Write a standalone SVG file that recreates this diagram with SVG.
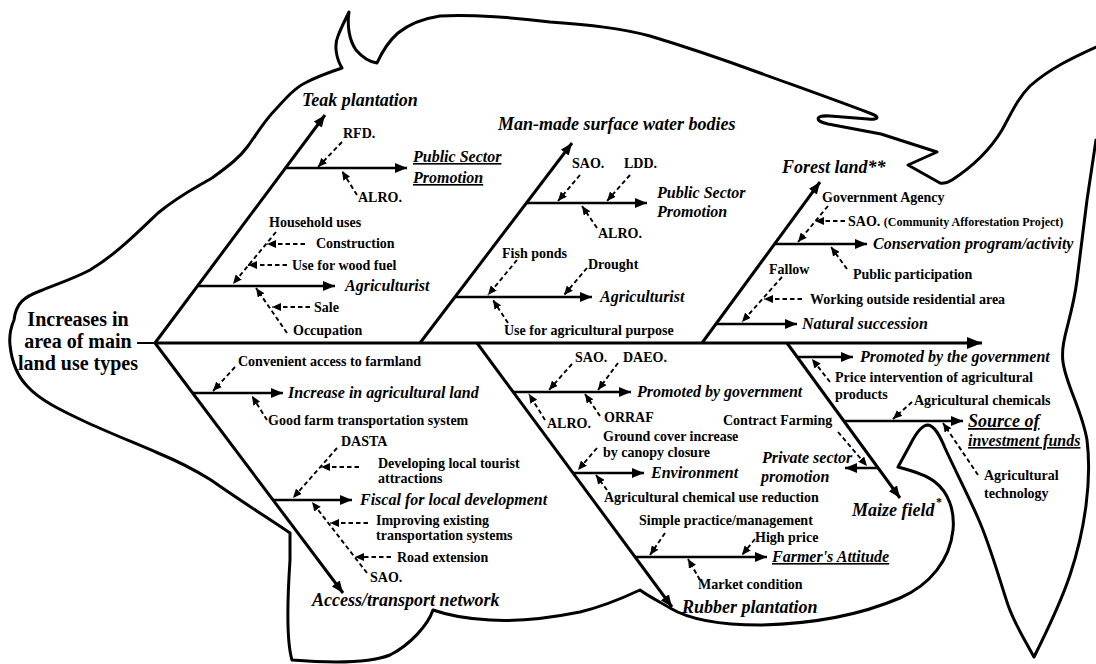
<svg xmlns="http://www.w3.org/2000/svg" width="1096" height="664" viewBox="0 0 1096 664">
<style>
.o{fill:none;stroke:#000;stroke-width:3;stroke-linejoin:round;stroke-linecap:round}
.bone{fill:none;stroke:#000;stroke-width:3}
.br{fill:none;stroke:#000;stroke-width:2.4}
.d{fill:none;stroke:#000;stroke-width:1.9;stroke-dasharray:4.5 3}
text{font-family:"Liberation Serif","Times New Roman",serif;fill:#000}
.t{font-size:20px;font-weight:bold}
.bl{font-size:18px;font-weight:bold;font-style:italic}
.bi{font-size:16px;font-weight:bold;font-style:italic}
.lb{font-size:14px;font-weight:bold}
.sm{font-size:12px}
.u{text-decoration:underline}
</style>
<defs>
<marker id="ahb" markerUnits="userSpaceOnUse" markerWidth="16" markerHeight="12" refX="15" refY="6" orient="auto"><path d="M0,0 L15,6 L0,12 z" fill="#000"/></marker>
<marker id="ah" markerUnits="userSpaceOnUse" markerWidth="12" markerHeight="10" refX="12" refY="5" orient="auto"><path d="M0,0 L12,5 L0,10 z" fill="#000"/></marker>
<marker id="ahs" markerUnits="userSpaceOnUse" markerWidth="9" markerHeight="8" refX="9" refY="4" orient="auto"><path d="M0,0 L9,4 L0,8 z" fill="#000"/></marker>
</defs>
<rect width="1096" height="664" fill="#fff"/>
<g id="fish-outline">
<path class="o" d="M14,320 C16,303 24,297 40,291 C60,283 75,278 90,270 C115,255 135,235 158,213 C180,195 195,188 212,178 C230,165 240,157 248,146 C258,132 265,120 276,109 C286,98 295,88 305,83 C318,76 330,72 342,68 C336,58 334,45 338,36 C341,28 346,18 349,12 C347,25 349,40 356,50 C362,57 370,62 377,63 C382,52 390,40 398,33 C408,25 420,19 440,16 C470,14 520,18 550,22 C590,25 620,28 650,36 C690,48 730,62 760,73 C790,84 830,98 872,114 C880,117 878,120 868,119 L830,116 C815,115 814,121 828,124 L881,134 L937,152 L908,165 L940,183 Q946,184 952,180 C975,165 990,150 1002,130 C1012,112 1018,98 1030,86 C1048,70 1070,58 1112,40 L1112,138 L1096,140 L1087,200 L1077,280 C1072,320 1060,340 1063,362 C1066,385 1082,410 1087,440 C1092,480 1085,530 1070,575 C1060,605 1045,635 1034,657 C1025,640 1015,625 1008,605 C998,575 990,545 978,518 C968,495 955,470 945,448 C940,436 935,426 928,425 C922,425 916,433 910,445 L898,467 C910,470 925,474 935,482 C948,492 955,510 953,530 C950,560 930,585 900,598 C860,615 810,624 760,625 C720,625 690,620 670,608 C660,602 648,596 640,590 C625,597 605,606 580,612 C550,618 520,622 490,620 C470,619 450,616 433,610 C428,625 410,645 390,655 C370,663 330,663 292,660 C286,640 288,590 290,560 L290,533 C260,513 235,497 211,480 C190,467 175,460 158,453 C130,441 110,433 88,423 C60,410 40,400 28,387 C18,377 12,365 10,345 C9,335 11,327 14,320 Z"/>
</g>
<g id="connectors">
<line x1="137" y1="343" x2="156" y2="343" stroke="#000" stroke-width="2"/>
<path class="bone" d="M155,343 L982,343" stroke-width="3.5" marker-end="url(#ahb)"/>
<path class="bone" d="M155,343 L325,115" marker-end="url(#ah)"/>
<path class="bone" d="M420,343 L572,143" marker-end="url(#ah)"/>
<path class="bone" d="M702,343 L820,182" marker-end="url(#ah)"/>
<path class="bone" d="M155,343 L343,593" marker-end="url(#ah)"/>
<path class="bone" d="M477,343 L672,607" marker-end="url(#ah)"/>
<path class="bone" d="M787,343 L900,498" marker-end="url(#ah)"/>
<path class="br" d="M286,168 L407,168" marker-end="url(#ah)"/>
<path class="br" d="M198,286 L335,286" marker-end="url(#ah)"/>
<path class="br" d="M526,203 L647,203" marker-end="url(#ah)"/>
<path class="br" d="M455,297 L592,297" marker-end="url(#ah)"/>
<path class="br" d="M775,244 L867,244" marker-end="url(#ah)"/>
<path class="br" d="M716,324 L797,324" marker-end="url(#ah)"/>
<path class="br" d="M193,393 L283,393" marker-end="url(#ah)"/>
<path class="br" d="M273,500 L352,500" marker-end="url(#ah)"/>
<path class="br" d="M513,392 L631,392" marker-end="url(#ah)"/>
<path class="br" d="M573,473 L644,473" marker-end="url(#ah)"/>
<path class="br" d="M635,557 L767,557" marker-end="url(#ah)"/>
<path class="br" d="M797,357 L853,357" marker-end="url(#ah)"/>
<path class="br" d="M844,421 L963,421" marker-end="url(#ah)"/>
<path class="br" d="M878,468 L845,468" marker-end="url(#ah)"/>
<path class="d" d="M342,142 L318,167" marker-end="url(#ahs)"/>
<path class="d" d="M357,195 L342,171" marker-end="url(#ahs)"/>
<path class="d" d="M276,232 L233,284" marker-end="url(#ahs)"/>
<path class="d" d="M305,244 L267,244" marker-end="url(#ahs)"/>
<path class="d" d="M287,265 L248,265" marker-end="url(#ahs)"/>
<path class="d" d="M287,333 L256,288" marker-end="url(#ahs)"/>
<path class="d" d="M310,307 L272,307" marker-end="url(#ahs)"/>
<path class="d" d="M580,175 L558,201" marker-end="url(#ahs)"/>
<path class="d" d="M630,175 L607,201" marker-end="url(#ahs)"/>
<path class="d" d="M597,228 L582,206" marker-end="url(#ahs)"/>
<path class="d" d="M517,260 L488,295" marker-end="url(#ahs)"/>
<path class="d" d="M587,268 L564,295" marker-end="url(#ahs)"/>
<path class="d" d="M508,323 L493,300" marker-end="url(#ahs)"/>
<path class="d" d="M828,206 L798,242" marker-end="url(#ahs)"/>
<path class="d" d="M845,221 L815,221" marker-end="url(#ahs)"/>
<path class="d" d="M847,269 L831,247" marker-end="url(#ahs)"/>
<path class="d" d="M782,277 L742,322" marker-end="url(#ahs)"/>
<path class="d" d="M802,299 L764,299" marker-end="url(#ahs)"/>
<path class="d" d="M235,367 L213,391" marker-end="url(#ahs)"/>
<path class="d" d="M267,420 L252,396" marker-end="url(#ahs)"/>
<path class="d" d="M337,448 L293,498" marker-end="url(#ahs)"/>
<path class="d" d="M359,467 L321,467" marker-end="url(#ahs)"/>
<path class="d" d="M367,573 L312,502" marker-end="url(#ahs)"/>
<path class="d" d="M368,523 L330,523" marker-end="url(#ahs)"/>
<path class="d" d="M391,557 L355,557" marker-end="url(#ahs)"/>
<path class="d" d="M572,364 L549,390" marker-end="url(#ahs)"/>
<path class="d" d="M618,363 L598,390" marker-end="url(#ahs)"/>
<path class="d" d="M545,420 L529,394" marker-end="url(#ahs)"/>
<path class="d" d="M600,416 L585,394" marker-end="url(#ahs)"/>
<path class="d" d="M597,448 L578,470" marker-end="url(#ahs)"/>
<path class="d" d="M607,490 L596,475" marker-end="url(#ahs)"/>
<path class="d" d="M665,533 L650,555" marker-end="url(#ahs)"/>
<path class="d" d="M755,539 L742,555" marker-end="url(#ahs)"/>
<path class="d" d="M700,580 L688,559" marker-end="url(#ahs)"/>
<path class="d" d="M830,382 L812,359" marker-end="url(#ahs)"/>
<path class="d" d="M912,402 L893,419" marker-end="url(#ahs)"/>
<path class="d" d="M978,475 L943,423" marker-end="url(#ahs)"/>
<path class="d" d="M838,432 L867,466" marker-end="url(#ahs)"/>
</g>
<g id="head">
<text class="t" x="78" y="326" text-anchor="middle">Increases in</text>
<text class="t" x="78" y="348" text-anchor="middle">area of main</text>
<text class="t" x="78" y="370" text-anchor="middle">land use types</text>
</g>
<g id="teak">
<text class="bl" x="302" y="106">Teak plantation</text>
<text class="bi u" x="413" y="162">Public Sector</text>
<text class="bi u" x="413" y="183">Promotion</text>
<text class="lb" x="343" y="138">RFD.</text>
<text class="lb" x="358" y="202">ALRO.</text>
<text class="bi" x="345" y="291">Agriculturist</text>
<text class="lb" x="269" y="227">Household uses</text>
<text class="lb" x="316" y="248">Construction</text>
<text class="lb" x="292" y="270">Use for wood fuel</text>
<text class="lb" x="314" y="312">Sale</text>
<text class="lb" x="293" y="335">Occupation</text>
</g>
<g id="water">
<text class="bl" x="498" y="130">Man-made surface water bodies</text>
<text class="bi" x="657" y="198">Public Sector</text>
<text class="bi" x="657" y="217">Promotion</text>
<text class="lb" x="572" y="168">SAO.</text>
<text class="lb" x="624" y="168">LDD.</text>
<text class="lb" x="598" y="238">ALRO.</text>
<text class="bi" x="600" y="302">Agriculturist</text>
<text class="lb" x="502" y="258">Fish ponds</text>
<text class="lb" x="588" y="269">Drought</text>
<text class="lb" x="504" y="335">Use for agricultural purpose</text>
</g>
<g id="forest">
<text class="bl" x="782" y="173">Forest land**</text>
<text class="lb" x="822" y="202">Government Agency</text>
<text class="lb" x="848" y="226">SAO. <tspan class="sm">(Community Afforestation Project)</tspan></text>
<text class="bi" x="873" y="249">Conservation program/activity</text>
<text class="lb" x="853" y="279">Public participation</text>
<text class="lb" x="769" y="274">Fallow</text>
<text class="lb" x="810" y="304">Working outside residential area</text>
<text class="bi" x="802" y="329">Natural succession</text>
</g>
<g id="access">
<text class="bl" x="312" y="606">Access/transport network</text>
<text class="lb" x="238" y="366">Convenient access to farmland</text>
<text class="bi" x="288" y="398">Increase in agricultural land</text>
<text class="lb" x="268" y="425">Good farm transportation system</text>
<text class="lb" x="341" y="446">DASTA</text>
<text class="lb" x="378" y="468">Developing local tourist</text>
<text class="lb" x="378" y="483">attractions</text>
<text class="bi" x="360" y="505">Fiscal for local development</text>
<text class="lb" x="376" y="525">Improving existing</text>
<text class="lb" x="376" y="540">transportation systems</text>
<text class="lb" x="397" y="562">Road extension</text>
<text class="lb" x="370" y="582">SAO.</text>
</g>
<g id="rubber">
<text class="bl" x="682" y="613">Rubber plantation</text>
<text class="lb" x="575" y="362">SAO.</text>
<text class="lb" x="623" y="362">DAEO.</text>
<text class="bi" x="637" y="397">Promoted by government</text>
<text class="lb" x="547" y="428">ALRO.</text>
<text class="lb" x="604" y="422">ORRAF</text>
<text class="lb" x="603" y="441">Ground cover increase</text>
<text class="lb" x="603" y="457">by canopy closure</text>
<text class="bi" x="651" y="478">Environment</text>
<text class="lb" x="604" y="502">Agricultural chemical use reduction</text>
<text class="lb" x="639" y="525">Simple practice/management</text>
<text class="lb" x="755" y="542">High price</text>
<text class="bi u" x="772" y="562">Farmer's Attitude</text>
<text class="lb" x="698" y="589">Market condition</text>
</g>
<g id="maize">
<text class="bl" x="852" y="516">Maize field</text>
<text class="lb sm" x="936" y="506">*</text>
<text class="bi" x="860" y="362">Promoted by the government</text>
<text class="lb" x="835" y="382">Price intervention of agricultural</text>
<text class="lb" x="835" y="399">products</text>
<text class="lb" x="914" y="405">Agricultural chemicals</text>
<text class="bl u" x="968" y="427">Source of</text>
<text class="bi u" x="968" y="446">investment funds</text>
<text class="lb" x="984" y="480">Agricultural</text>
<text class="lb" x="984" y="498">technology</text>
<text class="lb" x="723" y="425">Contract Farming</text>
<text class="bi" x="762" y="463">Private sector</text>
<text class="bi" x="761" y="482">promotion</text>
</g>
</svg>
